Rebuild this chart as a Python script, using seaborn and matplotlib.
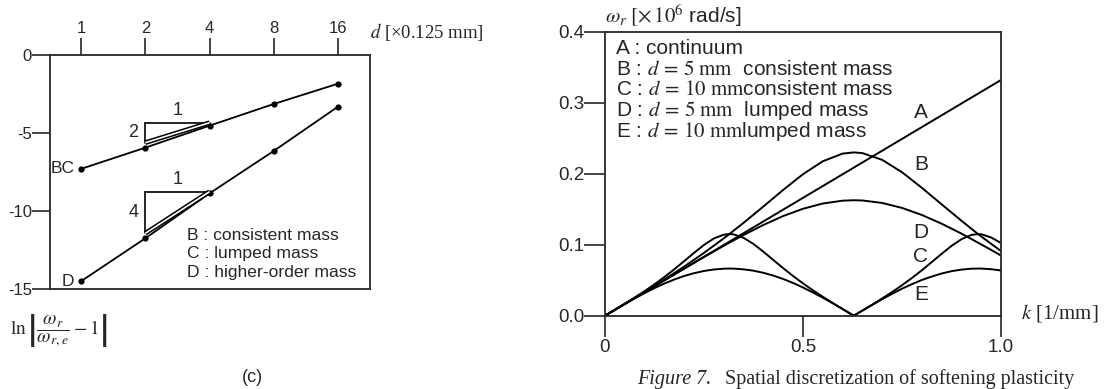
import matplotlib
matplotlib.use("Agg")
import matplotlib.pyplot as plt
import seaborn as sns
import pandas as pd

# ---------------- data ----------------
# left panel (c)
d_vals = [1, 2, 4, 8, 16]
bc_vals = [-7.30, -5.94, -4.53, -3.14, -1.84]
d_line_vals = [-14.50, -11.75, -8.87, -6.15, -3.31]
top_ticks = [1, 2, 4, 8, 16]
left_yticks = [0, -5, -10, -15]
left_legend = ["B : consistent mass", "C : lumped mass", "D : higher-order mass"]
# slope triangles: (x_left, x_right, y_top, y_bottom)
tri_upper = (2, 4, -4.34, -5.62)
tri_lower = (2, 4, -8.76, -11.43)

# right panel: dispersion curves
k_A = [0, 1.0]
curve_A = [0, 0.332]
k_coarse = [0, 0.05, 0.1, 0.15, 0.2, 0.25, 0.3, 0.314, 0.35, 0.4, 0.45, 0.5, 0.55,
            0.6, 0.628, 0.65, 0.7, 0.75, 0.8, 0.85, 0.9, 0.942, 0.975, 1.0]
curve_B = [0, .0167, .0336, .0510, .0692, .0885, .1090, .1150, .1308, .1538, .1772, .1993,
           .2175, .2283, .2300, .2290, .2195, .2021, .1802, .1569, .1338, .1150, .1013, .0911]
curve_D = [0, .0166, .0332, .0498, .0663, .0826, .0985, .1029, .1137, .1278, .1404, .1506,
           .1580, .1620, .1626, .1623, .1588, .1518, .1419, .1296, .1157, .1029, .0927, .0847]
k_fine = [0, .025, .05, .075, .1, .125, .15, .175, .2, .225, .25, .275, .3, .314, .325,
          .35, .375, .4, .425, .45, .475, .5, .525, .55, .575, .6, .628, .65, .675, .7,
          .725, .75, .775, .8, .825, .85, .875, .9, .925, .942, .95, .975, 1.0]
curve_C = [0, .0083, .0168, .0255, .0346, .0442, .0545, .0654, .0769, .0886, .0997, .1088,
           .1141, .1150, .1145, .1097, .1010, .0901, .0785, .0669, .0559, .0455, .0358,
           .0267, .0179, .0094, 0, .0072, .0156, .0243, .0333, .0429, .0531, .0639, .0755,
           .0871, .0983, .1077, .1137, .1150, .1148, .1102, .1024]
curve_E = [0, .0083, .0164, .0243, .0318, .0389, .0453, .0510, .0559, .0599, .0630, .0651,
           .0662, .0664, .0663, .0653, .0634, .0604, .0565, .0517, .0461, .0397, .0327,
           .0253, .0175, .0094, 0, .0072, .0153, .0233, .0308, .0380, .0444, .0503, .0551,
           .0594, .0627, .0649, .0662, .0664, .0664, .0655, .0637]
right_xticks = [0, 0.5, 1.0]
right_xlabels = ["0", "0.5", "1.0"]
right_yticks = [0.0, 0.1, 0.2, 0.3, 0.4]
right_ylabels = ["0.0", "0.1", "0.2", "0.3", "0.4"]
curve_names = ["A", "B", "C", "D", "E"]
right_legend = [
    "A : continuum",
    r"B : $d\,=\,5\ \mathrm{mm}$  consistent mass",
    r"C : $d\,=\,10\ \mathrm{mm}$consistent mass",
    r"D : $d\,=\,5\ \mathrm{mm}$  lumped mass",
    r"E : $d\,=\,10\ \mathrm{mm}$lumped mass",
]

# ---------------- style ----------------
sns.set_style("ticks")
plt.rcParams["font.family"] = ["Liberation Sans", "DejaVu Sans"]
plt.rcParams["mathtext.fontset"] = "stix"
plt.rcParams["axes.linewidth"] = 1.3

W, H = 1108, 389
fig = plt.figure(figsize=(W / 100, H / 100), dpi=100)


def px(x, y):
    return x / W, 1 - y / H


SERIF = ["Liberation Serif", "DejaVu Serif"]

# ---------------- left panel ----------------
axL = fig.add_axes([50 / W, 1 - 289 / H, 320 / W, 234 / H])
left_df = pd.DataFrame({"d": d_vals * 2,
                        "v": bc_vals + d_line_vals,
                        "s": ["BC"] * 5 + ["D"] * 5})
sns.lineplot(data=left_df, x="d", y="v", hue="s", palette=["black", "black"],
             marker="o", markersize=4.5, markeredgewidth=0, linewidth=1.3,
             legend=False, ax=axL)
axL.set_xscale("log", base=2)
axL.set_xlim(0.715, 22.6)
axL.set_ylim(-15, 0)
axL.xaxis.tick_top()
axL.set_xticks(top_ticks)
axL.set_xticklabels([str(t) for t in top_ticks])
axL.xaxis.set_minor_locator(matplotlib.ticker.NullLocator())
axL.set_yticks(left_yticks)
axL.set_yticklabels([str(t) for t in left_yticks])
axL.tick_params(axis="x", direction="out", length=12, width=1.2, pad=2, labelsize=12)
axL.tick_params(axis="y", direction="out", length=13, width=1.2, pad=0, labelsize=12)
axL.set_xlabel("")
axL.set_ylabel("")
for s in axL.spines.values():
    s.set_visible(True)
    s.set_linewidth(1.3)

for (x0, x1, yt, yb), lab_h, lab_v in [(tri_upper, "1", "2"), (tri_lower, "1", "4")]:
    axL.plot([x0, x1], [yt, yt], color="black", lw=1.2)
    axL.plot([x0, x0], [yt, yb], color="black", lw=1.2)
    axL.plot([x0, x1], [yb, yt], color="black", lw=3.4, solid_capstyle="butt")
    axL.plot([x0, x1], [yb, yt], color="white", lw=1.2, solid_capstyle="butt")
    axL.text((x0 * x1) ** 0.5, yt + 0.25, lab_h, ha="center", va="bottom", fontsize=13)
    axL.text(x0 / 1.08, (yt + yb) / 2, lab_v, ha="right", va="center", fontsize=13)

axL.text(0.93, bc_vals[0], "BC", ha="right", va="center", fontsize=12.5)
axL.text(0.93, d_line_vals[0], "D", ha="right", va="center", fontsize=12.5)

for i, t in enumerate(left_legend):
    fig.text(*px(187, 235 + i * 18.8), t, ha="left", va="center", fontsize=12.6)

fig.text(*px(370, 32), r"$d$ [×0.125 mm]", ha="left", va="center", fontsize=13.5,
         family=SERIF)
fig.text(*px(10, 331), r"$\ln\left|\dfrac{\omega_r}{\omega_{r,e}}-1\right|$",
         ha="left", va="center", fontsize=14)
fig.text(*px(252, 377), "(c)", ha="center", va="center", fontsize=13)

# ---------------- right panel ----------------
axR = fig.add_axes([605 / W, 1 - 315.7 / H, 396 / W, 284 / H])
right_df = pd.DataFrame({
    "k": k_A + k_coarse + k_fine + k_coarse + k_fine,
    "w": curve_A + curve_B + curve_C + curve_D + curve_E,
    "c": (["A"] * len(k_A) + ["B"] * len(k_coarse) + ["C"] * len(k_fine)
          + ["D"] * len(k_coarse) + ["E"] * len(k_fine)),
})
sns.lineplot(data=right_df, x="k", y="w", hue="c", palette=["black"] * 5,
             linewidth=1.4, legend=False, ax=axR, sort=False)
axR.set_xlim(0, 1.0)
axR.set_ylim(0, 0.4)
axR.set_xticks(right_xticks)
axR.set_xticklabels(right_xlabels)
axR.set_yticks(right_yticks)
axR.set_yticklabels(right_ylabels)
axR.tick_params(axis="both", direction="out", length=15, width=1.2, pad=2, labelsize=13.5)
axR.tick_params(axis="y", pad=0)
axR.set_xlabel("")
axR.set_ylabel("")
for s in axR.spines.values():
    s.set_visible(True)
    s.set_linewidth(1.3)

for i, t in enumerate(right_legend):
    fig.text(*px(616, 48.3 + i * 20.8), t, ha="left", va="center", fontsize=15)

for name, (x, y) in zip(curve_names, [(921, 113), (921, 165), (921, 257), (921, 232), (921, 295)]):
    fig.text(*px(x, y), name, ha="center", va="center", fontsize=15)

fig.text(*px(605, 16), r"$\omega_r\ [\times\,10^6$ rad/s]", ha="left", va="center",
         fontsize=15)
fig.text(*px(1021, 313), r"$k$ [1/mm]", ha="left", va="center", fontsize=15,
         family=SERIF)

# caption (at the bottom edge)
fig.text(*px(637, 384), "Figure 7.", ha="left", va="baseline", fontsize=14.5,
         style="italic", family=SERIF)
fig.text(*px(725, 384), "Spatial discretization of softening plasticity",
         ha="left", va="baseline", fontsize=14.5, family=SERIF)

fig.savefig("out.png", dpi=100)
